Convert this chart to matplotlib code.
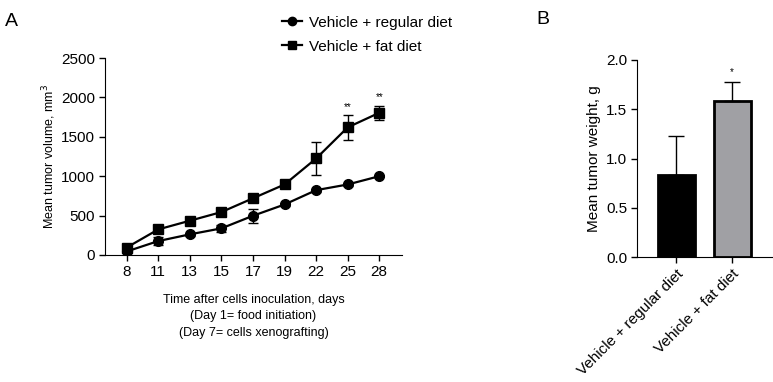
import matplotlib
matplotlib.use("Agg")
import matplotlib.pyplot as plt
from matplotlib.lines import Line2D
import numpy as np

plt.rcParams['font.family'] = ['Liberation Sans', 'DejaVu Sans']

days = ["8", "11", "13", "15", "17", "19", "22", "25", "28"]
regular_mean = [45, 177, 262, 338, 498, 641, 823, 895, 1000]
regular_err = [15, 55, 20, 40, 90, 20, 20, 15, 15]
fat_mean = [95, 325, 435, 545, 720, 895, 1225, 1620, 1805]
fat_err = [20, 20, 20, 25, 25, 20, 213, 155, 90]
sig_days = ["25", "28"]
sig_labels = ["**", "**"]

groups = ["Vehicle + regular diet", "Vehicle + fat diet"]
weight_mean = [0.83, 1.58]
weight_err = [0.40, 0.20]
bar_colors = ["#000000", "#a0a0a4"]

fig = plt.figure(figsize=(7.73, 3.82), dpi=100)

# Panel A
axA = fig.add_axes([0.1358, 0.3325, 0.3842, 0.5155])
x = np.arange(len(days))
axA.errorbar(x, regular_mean, yerr=regular_err, color='black', marker='o', ms=7,
             lw=1.6, capsize=3.5, elinewidth=1, capthick=1)
axA.errorbar(x, fat_mean, yerr=fat_err, color='black', marker='s', ms=7,
             lw=1.6, capsize=3.5, elinewidth=1, capthick=1)
for d, s in zip(sig_days, sig_labels):
    i = days.index(d)
    axA.text(i, fat_mean[i] + fat_err[i] + 45, s, ha='center', va='bottom', fontsize=7)
axA.set_xlim(-0.69, 8.72)
axA.set_ylim(0, 2500)
axA.set_yticks([0, 500, 1000, 1500, 2000, 2500])
axA.set_xticks(x)
axA.set_xticklabels(days)
axA.spines['top'].set_visible(False)
axA.spines['right'].set_visible(False)
axA.tick_params(direction='out', length=4, width=1, labelsize=11, pad=3)
axA.set_ylabel("Mean tumor volume, mm$^3$", fontsize=9, labelpad=2)
axA.set_xlabel("Time after cells inoculation, days\n(Day 1= food initiation)\n(Day 7= cells xenografting)",
               fontsize=9, linespacing=1.5, labelpad=11)
handles = [Line2D([], [], color='black', marker='o', ms=6, lw=1.6),
           Line2D([], [], color='black', marker='s', ms=6, lw=1.6)]
fig.legend(handles=handles, labels=groups, loc='upper left', bbox_to_anchor=(0.347, 0.995),
           frameon=False, fontsize=11, handlelength=1.3, handletextpad=0.45,
           labelspacing=0.65)

fig.text(0.006, 0.945, "A", fontsize=14, ha='left', va='center')

# Panel B
axB = fig.add_axes([0.824, 0.327, 0.176, 0.516])
xb = np.arange(len(groups))
axB.bar(xb, weight_mean, width=0.66, color=bar_colors, edgecolor='black', linewidth=2)
axB.errorbar(xb, weight_mean, yerr=[np.zeros(len(xb)), weight_err], fmt='none',
             ecolor='black', capsize=6, elinewidth=1, capthick=1)
axB.text(1, weight_mean[1] + weight_err[1] + 0.05, "*", ha='center', va='bottom', fontsize=7)
axB.set_xlim(-0.7, 1.73)
axB.set_ylim(0, 2.0)
axB.set_yticks([0.0, 0.5, 1.0, 1.5, 2.0])
axB.set_yticklabels(["0.0", "0.5", "1.0", "1.5", "2.0"])
axB.set_xticks(xb)
axB.set_xticklabels(groups, rotation=45, ha='right', rotation_mode='anchor')
axB.spines['top'].set_visible(False)
axB.spines['right'].set_visible(False)
axB.tick_params(direction='out', length=4, width=1, labelsize=11, pad=3)
axB.set_ylabel("Mean tumor weight, g", fontsize=11)
fig.text(0.694, 0.95, "B", fontsize=14, ha='left', va='center')

fig.savefig("out.png", dpi=100)
